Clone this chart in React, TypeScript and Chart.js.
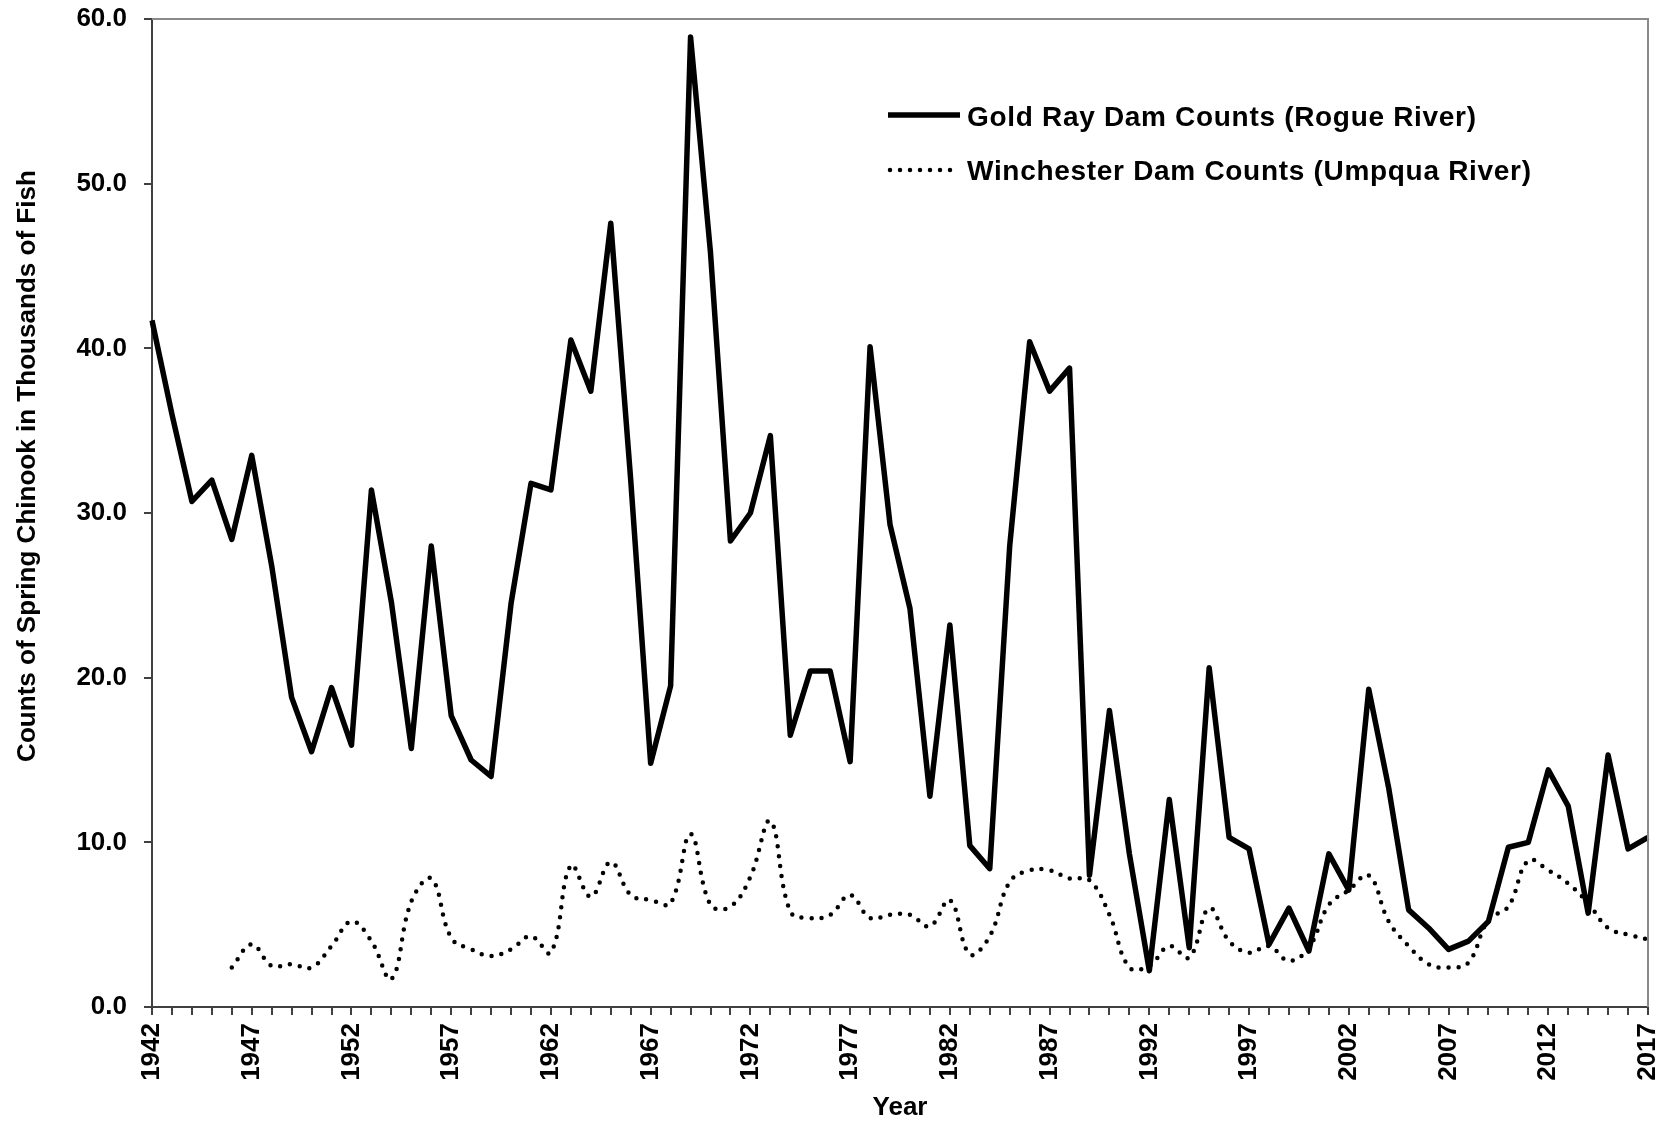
import React, { useEffect, useRef } from 'react';
import { Chart, registerables } from 'chart.js';

Chart.register(...registerables);

// ---- Data ----
const FIRST_YEAR = 1942;
const LAST_YEAR = 2017;
const years: string[] = [];
for (let y = FIRST_YEAR; y <= LAST_YEAR; y++) years.push(String(y));

const labeledYears = [1942, 1947, 1952, 1957, 1962, 1967, 1972, 1977, 1982, 1987, 1992, 1997, 2002, 2007, 2012, 2017];

// Gold Ray Dam Counts (Rogue River), thousands of fish, 1942-2017
const goldRay = [
  41.7, 36.0, 30.7, 32.0, 28.4, 33.5, 26.8, 18.8, 15.5, 19.4,
  15.9, 31.4, 24.6, 15.7, 28.0, 17.7, 15.0, 14.0, 24.5, 31.8,
  31.4, 40.5, 37.4, 47.6, 32.0, 14.8, 19.5, 58.9, 45.8, 28.3,
  30.0, 34.7, 16.5, 20.4, 20.4, 14.9, 40.1, 29.3, 24.2, 12.8,
  23.2, 9.8, 8.4, 28.0, 40.4, 37.4, 38.8, 8.0, 18.0, 9.3,
  2.2, 12.6, 3.6, 20.6, 10.3, 9.6, 3.8, 6.0, 3.4, 9.3,
  7.1, 19.3, 13.3, 5.9, 4.8, 3.5, 4.0, 5.2, 9.7, 10.0,
  14.4, 12.2, 5.7, 15.3, 9.6, 10.3,
];

// Winchester Dam Counts (Umpqua River), thousands of fish, 1942-2017 (no data 1942-1945)
const winchester = [
  null, null, null, null, 2.4, 3.8, 2.5, 2.6, 2.4, 3.7,
  5.2, 4.0, 1.7, 6.4, 7.8, 4.2, 3.5, 3.1, 3.5, 4.3,
  3.3, 8.6, 6.7, 8.8, 6.8, 6.5, 6.3, 10.5, 6.2, 6.1,
  7.9, 11.3, 5.8, 5.4, 5.6, 6.8, 5.4, 5.6, 5.6, 4.9,
  6.5, 3.2, 4.3, 7.6, 8.3, 8.3, 7.8, 7.7, 5.6, 2.4,
  2.5, 3.7, 3.0, 6.0, 4.0, 3.3, 3.7, 2.8, 3.6, 6.2,
  7.1, 8.0, 5.2, 3.7, 2.6, 2.4, 2.7, 5.3, 6.1, 8.9,
  8.3, 7.5, 6.3, 4.8, 4.4, 4.1,
];

const Y_MIN = 0;
const Y_MAX = 60;
const Y_STEP = 10;

const seriesLabels = ['Gold Ray Dam Counts (Rogue River)', 'Winchester Dam Counts (Umpqua River)'];
const yTitle = 'Counts of Spring Chinook in Thousands of Fish';
const xTitle = 'Year';

// ---- Helpers ----
function hasFont(family: string): boolean {
  const c = document.createElement('canvas').getContext('2d');
  if (!c) return false;
  const s = 'mmmmmwwwwiiiilll0123456789';
  c.font = '40px monospace';
  const a = c.measureText(s).width;
  c.font = `40px "${family}", monospace`;
  const b = c.measureText(s).width;
  return Math.abs(a - b) > 0.5;
}

const W = 1671;
const H = 1122;

export default function App() {
  const ref = useRef<HTMLCanvasElement | null>(null);

  useEffect(() => {
    if (!ref.current) return;
    const narrow = hasFont('Liberation Sans Narrow');
    const baseFam = '"Liberation Sans", Arial, sans-serif';
    const rotFam = narrow ? '"Liberation Sans Narrow", "Arial Narrow", sans-serif' : baseFam;

    const fitText = (ctx: CanvasRenderingContext2D, text: string, target: number) => {
      const w = ctx.measureText(text).width;
      const anyCtx = ctx as any;
      if ('letterSpacing' in anyCtx && text.length > 1) {
        anyCtx.letterSpacing = `${(target - w) / (text.length - 1)}px`;
      }
    };

    const decorPlugin = {
      id: 'decor',
      afterDraw(chart: any) {
        const { ctx, chartArea: a } = chart;
        ctx.save();
        // top & right frame
        ctx.strokeStyle = '#8a8a8a';
        ctx.lineWidth = 2;
        ctx.beginPath();
        ctx.moveTo(a.left, a.top);
        ctx.lineTo(a.right, a.top);
        ctx.lineTo(a.right, a.bottom);
        ctx.stroke();

        // legend
        ctx.strokeStyle = '#000';
        ctx.lineWidth = 5.5;
        ctx.lineCap = 'butt';
        ctx.setLineDash([]);
        ctx.beginPath();
        ctx.moveTo(888, 115);
        ctx.lineTo(960, 115);
        ctx.stroke();

        ctx.lineWidth = 4.5;
        ctx.lineCap = 'round';
        ctx.setLineDash([0, 10]);
        ctx.beginPath();
        ctx.moveTo(890, 170);
        ctx.lineTo(951, 170);
        ctx.stroke();
        ctx.setLineDash([]);

        ctx.fillStyle = '#000';
        ctx.textAlign = 'left';
        ctx.textBaseline = 'alphabetic';
        ctx.font = `bold 28px ${baseFam}`;
        fitText(ctx, seriesLabels[0], 509);
        ctx.fillText(seriesLabels[0], 967, 126);
        (ctx as any).letterSpacing = '0px';
        fitText(ctx, seriesLabels[1], 564);
        ctx.fillText(seriesLabels[1], 967, 180);
        (ctx as any).letterSpacing = '0px';

        // x title
        ctx.font = `bold 26px ${baseFam}`;
        ctx.textAlign = 'center';
        ctx.fillText(xTitle, (a.left + a.right) / 2, 1115);

        // y title (rotated)
        ctx.save();
        ctx.translate(35, 466);
        ctx.rotate(-Math.PI / 2);
        let size = 26;
        ctx.font = `bold ${size}px ${rotFam}`;
        const w0 = ctx.measureText(yTitle).width;
        size = (size * 592) / w0;
        ctx.font = `bold ${size.toFixed(2)}px ${rotFam}`;
        ctx.textAlign = 'center';
        ctx.textBaseline = 'alphabetic';
        ctx.fillText(yTitle, 0, 0);
        ctx.restore();

        ctx.restore();
      },
    };

    const chart = new Chart(ref.current, {
      type: 'line',
      data: {
        labels: years,
        datasets: [
          {
            label: seriesLabels[0],
            data: goldRay,
            borderColor: '#000',
            backgroundColor: '#000',
            borderWidth: 5.5,
            pointRadius: 0,
            tension: 0,
            borderJoinStyle: 'round',
            fill: false,
          },
          {
            label: seriesLabels[1],
            data: winchester as any,
            borderColor: '#000',
            backgroundColor: '#000',
            borderWidth: 4.5,
            borderDash: [0, 10],
            borderCapStyle: 'round',
            pointRadius: 0,
            tension: 0.4,
            fill: false,
            spanGaps: false,
          },
        ],
      },
      options: {
        responsive: false,
        animation: false,
        devicePixelRatio: 1,
        layout: { padding: { top: 19, right: 23, left: 0, bottom: 0 } },
        plugins: {
          legend: { display: false },
          tooltip: { enabled: false },
          title: { display: false },
        },
        scales: {
          x: {
            type: 'category',
            offset: false,
            afterFit: (scale: any) => {
              scale.height = H - 1007;
              scale.paddingLeft = 0;
              scale.paddingRight = 0;
            },
            border: { display: true, color: '#404040', width: 2 },
            grid: {
              display: true,
              drawOnChartArea: false,
              drawTicks: true,
              tickLength: 8,
              color: '#404040',
              lineWidth: 2,
              offset: false,
            },
            ticks: {
              autoSkip: false,
              maxRotation: 90,
              minRotation: 90,
              padding: 8,
              color: '#000',
              font: { family: rotFam, size: narrow ? 30 : 26, weight: 'bold' },
              callback: function (this: any, value: any) {
                const lab = this.getLabelForValue(value);
                return labeledYears.includes(Number(lab)) ? lab : '';
              },
            },
          },
          y: {
            min: Y_MIN,
            max: Y_MAX,
            afterFit: (scale: any) => {
              scale.width = 152;
              scale.paddingTop = 0;
              scale.paddingBottom = 0;
            },
            border: { display: true, color: '#404040', width: 2 },
            grid: {
              display: true,
              drawOnChartArea: false,
              drawTicks: true,
              tickLength: 8,
              color: '#404040',
              lineWidth: 2,
            },
            ticks: {
              stepSize: Y_STEP,
              padding: 17,
              color: '#000',
              font: { family: baseFam, size: 26, weight: 'bold' },
              callback: (v: any) => Number(v).toFixed(1),
            },
          },
        },
      },
      plugins: [decorPlugin],
    } as any);

    return () => chart.destroy();
  }, []);

  return (
    <div style={{ position: 'absolute', left: 0, top: 0, width: W, height: H, background: '#fff' }}>
      <canvas ref={ref} width={W} height={H} style={{ width: W, height: H, display: 'block' }} />
    </div>
  );
}
